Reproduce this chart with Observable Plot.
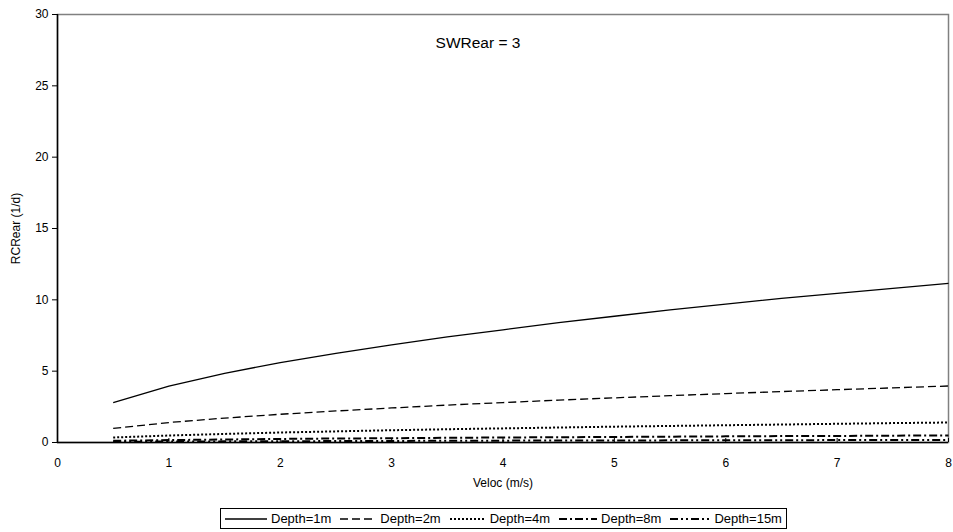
<!DOCTYPE html>
<html>
<head>
<meta charset="utf-8">
<script src="https://cdn.jsdelivr.net/npm/d3@7"></script>
<script src="https://cdn.jsdelivr.net/npm/@observablehq/plot@0.6"></script>
<style>
  html, body { margin: 0; padding: 0; background: #fff; }
  body { width: 953px; height: 532px; position: relative; overflow: hidden; font-family: "Liberation Sans", Arial, sans-serif; }
  #legend { position: absolute; left: 220px; top: 508px; height: 21px; border: 1px solid #000; box-sizing: border-box;
            display: flex; align-items: center; font-size: 13px; color: #000; padding: 0 0 0 4px; white-space: nowrap; }
  #legend .item { display: flex; align-items: center; margin-right: 9px; }
  #legend .item:last-child { margin-right: 4px; }
  #legend svg { display: block; margin-right: 4px; }
</style>
</head>
<body>
<div id="chart"></div>
<div id="legend"></div>
<script>
const velocities = [0.5, 1, 1.5, 2, 2.5, 3, 3.5, 4, 4.5, 5, 5.5, 6, 6.5, 7, 7.5, 8];
const seriesNames = ["Depth=1m", "Depth=2m", "Depth=4m", "Depth=8m", "Depth=15m"];
const depth1m  = [2.80, 3.95, 4.85, 5.60, 6.25, 6.85, 7.40, 7.90, 8.40, 8.85, 9.30, 9.70, 10.10, 10.45, 10.80, 11.15];
const depth2m  = [0.99, 1.40, 1.71, 1.98, 2.21, 2.42, 2.62, 2.80, 2.97, 3.13, 3.28, 3.43, 3.57, 3.70, 3.83, 3.96];
const depth4m  = [0.35, 0.49, 0.60, 0.70, 0.78, 0.86, 0.93, 0.99, 1.05, 1.11, 1.16, 1.21, 1.26, 1.31, 1.36, 1.40];
const depth8m  = [0.12, 0.17, 0.21, 0.25, 0.28, 0.30, 0.33, 0.35, 0.37, 0.39, 0.41, 0.43, 0.45, 0.46, 0.48, 0.49];
const depth15m = [0.05, 0.07, 0.08, 0.09, 0.10, 0.11, 0.12, 0.13, 0.14, 0.14, 0.15, 0.16, 0.16, 0.17, 0.17, 0.18];
const xTicks = [0, 1, 2, 3, 4, 5, 6, 7, 8];
const yTicks = [0, 5, 10, 15, 20, 25, 30];
const titleText = "SWRear = 3";
const xLabel = "Veloc (m/s)";
const yLabel = "RCRear (1/d)";

const seriesValues = [depth1m, depth2m, depth4m, depth8m, depth15m];
const styles = [
  { dash: null, width: 1.3 },
  { dash: "8,4", width: 1.3 },
  { dash: "2,2", width: 2 },
  { dash: "8,3,2,3", width: 2 },
  { dash: "8,3,2,3,2,3", width: 2 }
];

const lineMarks = seriesValues.map((vals, i) => {
  const data = velocities.map((v, j) => ({ x: v, y: vals[j] }));
  return Plot.line(data, { x: "x", y: "y", stroke: "#000", strokeWidth: styles[i].width,
    strokeDasharray: styles[i].dash || undefined, strokeLinecap: "butt" });
});

const chart = Plot.plot({
  width: 953,
  height: 500,
  marginLeft: 57,
  marginRight: 5,
  marginTop: 14,
  marginBottom: 58,
  style: { fontFamily: "Liberation Sans, Arial, sans-serif", fontSize: "12px", color: "#000", background: "#fff" },
  x: { domain: [0, 8], ticks: xTicks, label: null },
  y: { domain: [0, 30], ticks: yTicks, label: null },
  marks: [
    Plot.frame({ stroke: "#808080", strokeWidth: 1.5 }),
    ...lineMarks.reverse(),
    Plot.ruleX([0], { stroke: "#000", strokeWidth: 1.5 }),
    Plot.ruleY([0], { stroke: "#000", strokeWidth: 1.5 }),
    Plot.axisY({ ticks: yTicks, tickSize: 5, tickPadding: 4, label: yLabel, labelAnchor: "center", labelArrow: "none", labelOffset: 46, fontSize: 12 }),
    Plot.axisX({ ticks: xTicks, tickSize: -4, tickPadding: 20, label: xLabel, labelAnchor: "center", labelArrow: "none", labelOffset: 44, fontSize: 12 }),
    Plot.text([titleText], { frameAnchor: "top", dx: -25, dy: 22, fontSize: 15.5, fill: "#000" })
  ]
});
document.getElementById("chart").appendChild(chart);

// Legend
const legend = document.getElementById("legend");
const swatchWidths = [42, 36, 36, 38, 40];
seriesNames.forEach((name, i) => {
  const item = document.createElement("div");
  item.className = "item";
  const w = swatchWidths[i];
  const ns = "http://www.w3.org/2000/svg";
  const svg = document.createElementNS(ns, "svg");
  svg.setAttribute("width", w);
  svg.setAttribute("height", 10);
  const ln = document.createElementNS(ns, "line");
  ln.setAttribute("x1", 0); ln.setAttribute("x2", w);
  ln.setAttribute("y1", 5); ln.setAttribute("y2", 5);
  ln.setAttribute("stroke", "#000");
  ln.setAttribute("stroke-width", styles[i].width);
  if (styles[i].dash) ln.setAttribute("stroke-dasharray", styles[i].dash);
  svg.appendChild(ln);
  item.appendChild(svg);
  const span = document.createElement("span");
  span.textContent = name;
  item.appendChild(span);
  legend.appendChild(item);
});
</script>
</body>
</html>
